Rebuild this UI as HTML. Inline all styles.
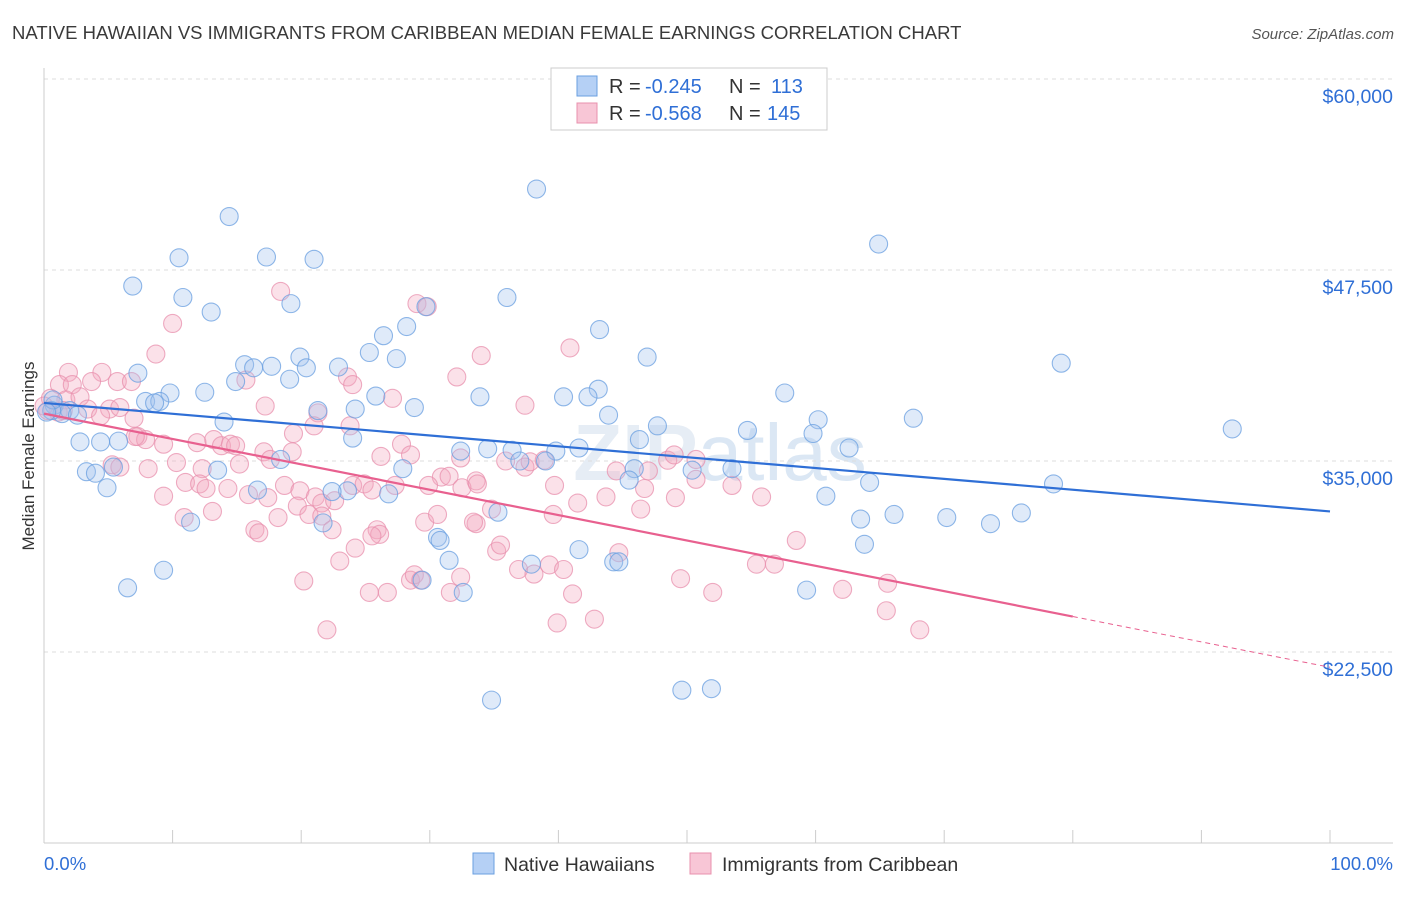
<!DOCTYPE html>
<html><head><meta charset="utf-8"><style>
body{margin:0;background:#fff;font-family:"Liberation Sans",sans-serif;}
svg text{font-family:"Liberation Sans",sans-serif;}
</style></head><body>
<svg id="c" width="1406" height="892" viewBox="0 0 1406 892">
<text x="12" y="39" font-size="18.5" fill="#3a3a3a">NATIVE HAWAIIAN VS IMMIGRANTS FROM CARIBBEAN MEDIAN FEMALE EARNINGS CORRELATION CHART</text>
<text x="1394" y="39" font-size="15" fill="#555" font-style="italic" text-anchor="end">Source: ZipAtlas.com</text>
<text x="720" y="480" font-size="80" fill="#e6edf5" text-anchor="middle" font-weight="bold">ZIP<tspan font-weight="normal" fill="#dbe7f4">atlas</tspan></text>
<text transform="translate(34,456) rotate(-90)" font-size="17" fill="#333" text-anchor="middle">Median Female Earnings</text>
<g id="grid"></g><g id="marks"></g><g id="trend"></g>
<g>
<rect x="551" y="68" width="276" height="62" fill="#fff" stroke="#ccc"/>
<rect x="577" y="76" width="20" height="20" fill="#b5d0f5" stroke="#6a9fe0"/>
<rect x="577" y="103" width="20" height="20" fill="#f8c6d6" stroke="#e890ad"/>
<text x="609" y="93" font-size="20" fill="#333">R =</text>
<text x="645" y="93" font-size="20" fill="#2f6fd6">-0.245</text>
<text x="729" y="93" font-size="20" fill="#333">N =</text>
<text x="771" y="93" font-size="20" fill="#2f6fd6">113</text>
<text x="609" y="120" font-size="20" fill="#333">R =</text>
<text x="645" y="120" font-size="20" fill="#2f6fd6">-0.568</text>
<text x="729" y="120" font-size="20" fill="#333">N =</text>
<text x="767" y="120" font-size="20" fill="#2f6fd6">145</text>
</g>
<g>
<rect x="473" y="853" width="21" height="21" fill="#b5d0f5" stroke="#6a9fe0"/>
<text x="504" y="871" font-size="19.5" fill="#333">Native Hawaiians</text>
<rect x="690" y="853" width="21" height="21" fill="#f8c6d6" stroke="#e890ad"/>
<text x="722" y="871" font-size="19.5" fill="#333">Immigrants from Caribbean</text>
</g>
<text x="44" y="870" font-size="18.5" fill="#2f6fd6">0.0%</text>
<text x="1393" y="870" font-size="18.5" fill="#2f6fd6" text-anchor="end">100.0%</text>
</svg>
<script>
const yTicks=[60000,47500,35000,22500];
const yTickLabels=["$60,000","$47,500","$35,000","$22,500"];
const blueX=[38.3,14.4,64.9,10.5,17.3,21.0,6.9,10.8,19.2,36.0,13.0,43.2,28.2,26.4,29.7,25.3,27.4,19.9,15.6,46.9,79.1,17.7,16.3,20.4,22.9,7.3,14.9,19.1,43.1,9.8,12.5,25.8,33.9,40.4,42.3,57.6,7.9,9.0,8.6,28.8,43.9,60.2,67.6,24.2,21.3,14.0,92.4,54.7,59.8,47.7,46.3,0.8,2.0,1.4,0.6,2.6,2.8,4.4,5.8,24.0,62.6,32.4,34.5,36.4,39.8,41.6,37.0,39.0,3.3,4.0,5.4,13.5,18.4,27.9,45.9,50.4,53.5,4.9,16.6,23.6,22.4,26.8,64.2,78.5,60.8,45.5,63.5,66.1,70.2,73.6,76.0,21.7,11.4,35.3,30.6,30.8,41.6,63.8,31.5,37.9,44.3,44.7,9.3,6.5,29.4,32.6,59.3,34.8,49.6,51.9,0.7,0.2];
const blueY=[52.8,51.0,49.2,48.3,48.35,48.2,46.45,45.7,45.3,45.7,44.75,43.6,43.8,43.2,45.1,42.1,41.7,41.8,41.3,41.8,41.4,41.2,41.1,41.1,41.15,40.75,40.2,40.35,39.7,39.45,39.5,39.25,39.2,39.2,39.2,39.45,38.9,38.9,38.8,38.5,38.0,37.7,37.8,38.4,38.3,37.55,37.1,37.0,36.8,37.3,36.4,38.65,38.3,38.1,38.3,38.0,36.25,36.25,36.3,36.5,35.85,35.65,35.8,35.7,35.65,35.85,35.0,35.0,34.3,34.2,34.6,34.4,35.1,34.5,34.5,34.4,34.5,33.25,33.1,33.05,33.0,32.85,33.6,33.5,32.7,33.75,31.2,31.5,31.3,30.9,31.6,30.95,31.0,31.65,30.0,29.8,29.2,29.55,28.5,28.25,28.4,28.4,27.85,26.7,27.2,26.4,26.55,19.35,20.0,20.1,39.0,38.2];
const pinkX=[18.4,10.0,29.0,29.8,8.7,40.9,34.0,1.9,4.5,1.2,2.2,5.7,6.8,3.7,15.7,32.1,23.6,24.0,27.1,1.7,2.8,3.4,5.1,7.0,5.9,4.4,1.1,0.3,17.2,37.4,21.3,21.0,19.4,23.8,27.8,7.3,7.9,9.3,11.9,13.2,13.8,14.5,14.9,5.3,5.9,8.1,10.3,12.3,15.2,17.1,17.6,19.3,26.2,28.5,30.9,32.4,33.6,35.9,37.4,37.8,38.9,44.5,47.0,48.5,49.0,50.7,11.0,12.1,12.6,14.3,15.9,17.4,18.7,19.9,21.1,21.6,22.6,24.0,24.9,25.5,27.3,29.9,31.5,32.5,33.7,39.7,41.5,43.7,46.7,49.1,50.7,53.5,55.8,9.3,10.9,13.1,16.4,16.7,18.2,19.7,20.6,21.6,22.4,25.9,26.1,29.6,30.6,34.8,33.6,39.6,46.4,58.5,24.2,25.5,35.2,35.5,36.9,39.3,40.4,44.7,55.4,56.8,20.2,23.0,25.3,26.7,28.5,28.8,29.3,31.6,32.4,38.1,41.1,42.8,49.5,52.0,62.1,65.6,65.5,22.0,39.9,68.1,33.4,0.5,0.0,7.1,1.5];
const pinkY=[46.1,44.0,45.3,45.1,42.0,42.4,41.9,40.8,40.8,40.0,40.0,40.2,40.2,40.2,40.3,40.5,40.5,40.0,39.1,39.0,39.2,38.4,38.4,37.8,38.5,37.95,38.2,38.3,38.6,38.65,38.15,37.3,36.8,37.3,36.1,36.6,36.4,36.1,36.2,36.4,36.0,36.1,36.0,34.75,34.6,34.5,34.9,34.5,34.8,35.6,35.1,35.6,35.3,35.4,33.95,35.2,33.7,35.0,34.6,34.95,35.05,34.35,34.35,35.05,35.4,35.1,33.6,33.5,33.2,33.2,32.8,32.6,33.4,33.05,32.65,32.25,32.4,33.4,33.5,33.1,33.4,33.4,34.0,33.25,33.5,33.4,32.25,32.65,33.2,32.6,33.8,33.4,32.65,32.7,31.3,31.7,30.5,30.3,31.3,32.05,31.5,31.4,30.5,30.5,30.2,31.0,31.5,31.85,30.9,31.5,31.85,29.8,29.3,30.1,29.1,29.5,27.9,28.2,27.9,29.0,28.25,28.25,27.15,28.45,26.4,26.4,27.2,27.55,27.2,26.4,27.4,27.6,26.3,24.65,27.3,26.4,26.6,27.0,25.2,23.95,24.4,23.95,31.0,39.1,38.6,36.6,38.3];
const blueTrend=[38.8,31.7];
const pinkTrend=[38.1,21.5];
const pinkSolidEnd=80;

const X0=44,X1=1330,YTOP=79,PX_PER_K=191/12.5;
const sx=p=>X0+(X1-X0)*p/100;
const sy=v=>YTOP+(60-v)*PX_PER_K;
const NS="http://www.w3.org/2000/svg";
function mk(t,a,parent){const e=document.createElementNS(NS,t);for(const k in a)e.setAttribute(k,a[k]);parent.appendChild(e);return e;}
const grid=document.getElementById('grid'),marks=document.getElementById('marks'),trend=document.getElementById('trend');
yTicks.forEach((v,i)=>{
  const y=sy(v/1000);
  const l=mk('line',{x1:44,x2:1393,y1:y,y2:y,stroke:'#ddd','stroke-dasharray':'4,4'},grid);
  
  
  const t=mk('text',{x:1393,y:y+24,'font-size':19.5,fill:'#2f6fd6','text-anchor':'end'},grid);
  t.textContent=yTickLabels[i];
  
  
});
const ax=mk('line',{x1:44,x2:1393,y1:843,y2:843,stroke:'#ccc'},grid);


const ay=mk('line',{x1:44,x2:44,y1:68,y2:843,stroke:'#ccc'},grid);


for(let i=0;i<=10;i++){
  const tk=mk('line',{x1:sx(i*10),x2:sx(i*10),y1:830,y2:843,stroke:'#ccc'},grid);
  
  
}
function pts(xs,ys,fill,stroke,name){
  xs.forEach((x,i)=>{
    const c=mk('circle',{cx:sx(x),cy:sy(ys[i]),r:9,fill:fill,'fill-opacity':0.35,stroke:stroke,'stroke-opacity':0.75,'stroke-width':1.1},marks);
    
    
  });
}
pts(pinkX,pinkY,'#f4a8c0','#e890ad','pink-point');
pts(blueX,blueY,'#a4c4ee','#6a9fe0','blue-point');
const bl=mk('line',{x1:sx(0),y1:sy(blueTrend[0]),x2:sx(100),y2:sy(blueTrend[1]),stroke:'#2f6fd6','stroke-width':2.2},trend);


const pe=pinkTrend[0]+(pinkTrend[1]-pinkTrend[0])*pinkSolidEnd/100;
const pl=mk('line',{x1:sx(0),y1:sy(pinkTrend[0]),x2:sx(pinkSolidEnd),y2:sy(pe),stroke:'#e8608f','stroke-width':2.2},trend);


const pd=mk('line',{x1:sx(pinkSolidEnd),y1:sy(pe),x2:sx(100),y2:sy(pinkTrend[1]),stroke:'#e8608f','stroke-width':1,'stroke-dasharray':'5,4'},trend);


</script>
</body></html>
